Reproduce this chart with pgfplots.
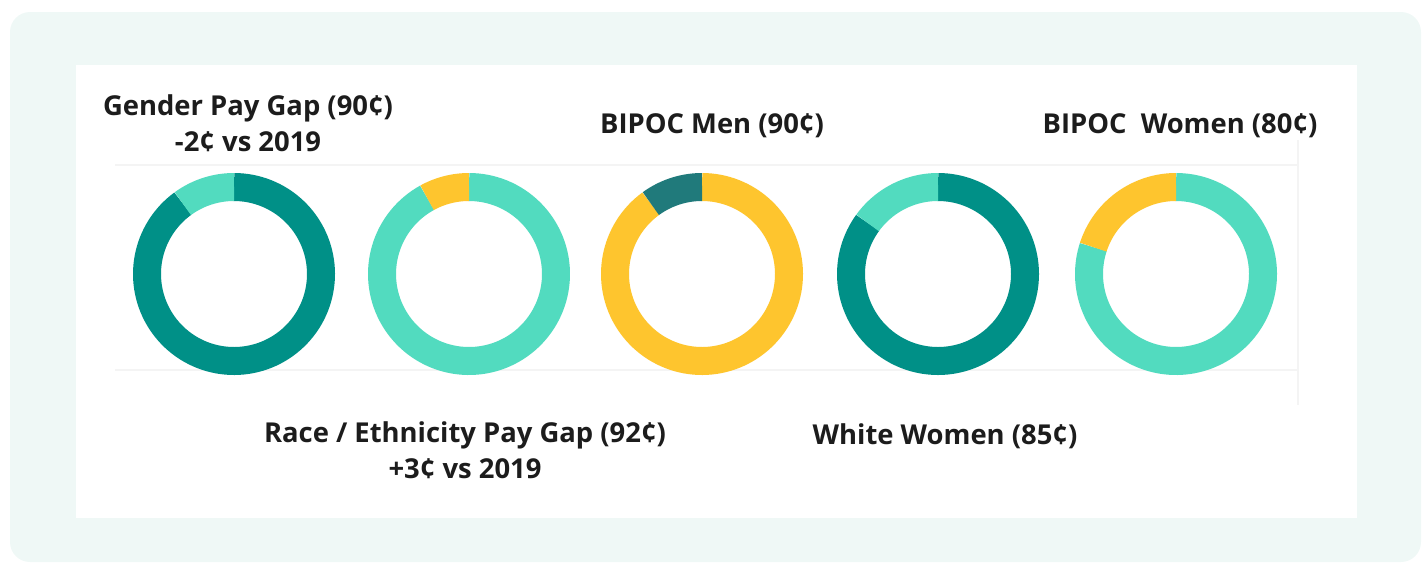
\documentclass[border=0pt]{standalone}
\usepackage{pgfplots}
\pgfplotsset{compat=1.18}
\usepackage{fontspec}
\setmainfont{Open Sans}
\definecolor{bgmint}{HTML}{EFF8F6}
\definecolor{darkteal}{HTML}{009087}
\definecolor{mint}{HTML}{52DBBF}
\definecolor{gold}{HTML}{FEC52E}
\definecolor{deepteal}{HTML}{207A7B}
\definecolor{txt}{HTML}{1C1C1C}
\definecolor{gridc}{HTML}{F4F4F4}
\tikzset{lbl/.style={font=\fontsize{13.7}{18}\selectfont\bfseries, text=txt, align=center, inner sep=0pt}}
% \donut{center x}{first share (%)}{first colour}{second colour}
\newcommand{\donut}[4]{%
  \addplot[draw=#3, line width=14pt, domain=0:#2, samples=120]
    ({#1+87*sin(3.6*x)},{274-87*cos(3.6*x)});
  \addplot[draw=#4, line width=14pt, domain=#2:100, samples=120]
    ({#1+87*sin(3.6*x)},{274-87*cos(3.6*x)});
}
\begin{document}
\begin{tikzpicture}
\begin{axis}[
  scale only axis, width=714pt, height=282pt,
  xmin=0, xmax=1428, ymin=0, ymax=564, y dir=reverse,
  hide axis, clip=false,
]
\fill[bgmint, rounded corners=10pt] (axis cs:10,12) rectangle (axis cs:1421,562);
\fill[white] (axis cs:76,65) rectangle (axis cs:1357,518);
\draw[gridc, line width=0.6pt] (axis cs:115,165) -- (axis cs:1298,165);
\draw[gridc, line width=0.6pt] (axis cs:115,370) -- (axis cs:1298,370);
\draw[gridc, line width=0.6pt] (axis cs:1298,140) -- (axis cs:1298,405);
% Gender pay gap 90 / 10
\donut{234}{90}{darkteal}{mint}
% Race / ethnicity pay gap 92 / 8
\donut{469}{92}{mint}{gold}
% BIPOC men 90 / 10
\donut{702}{90}{gold}{deepteal}
% White women 85 / 15
\donut{938}{85}{darkteal}{mint}
% BIPOC women 80 / 20
\donut{1176}{80}{mint}{gold}
\node[lbl] at (axis cs:248,123) {Gender Pay Gap (90¢)\\-2¢ vs 2019};
\node[lbl] at (axis cs:712,126) {BIPOC Men (90¢)};
\node[lbl] at (axis cs:1180,126) {BIPOC\ \ Women (80¢)};
\node[lbl] at (axis cs:465,450) {Race / Ethnicity Pay Gap (92¢)\\+3¢ vs 2019};
\node[lbl] at (axis cs:945,436) {White Women (85¢)};
\end{axis}
\pgfresetboundingbox
\path (0,0) rectangle (714pt,282pt);
\end{tikzpicture}
\end{document}
